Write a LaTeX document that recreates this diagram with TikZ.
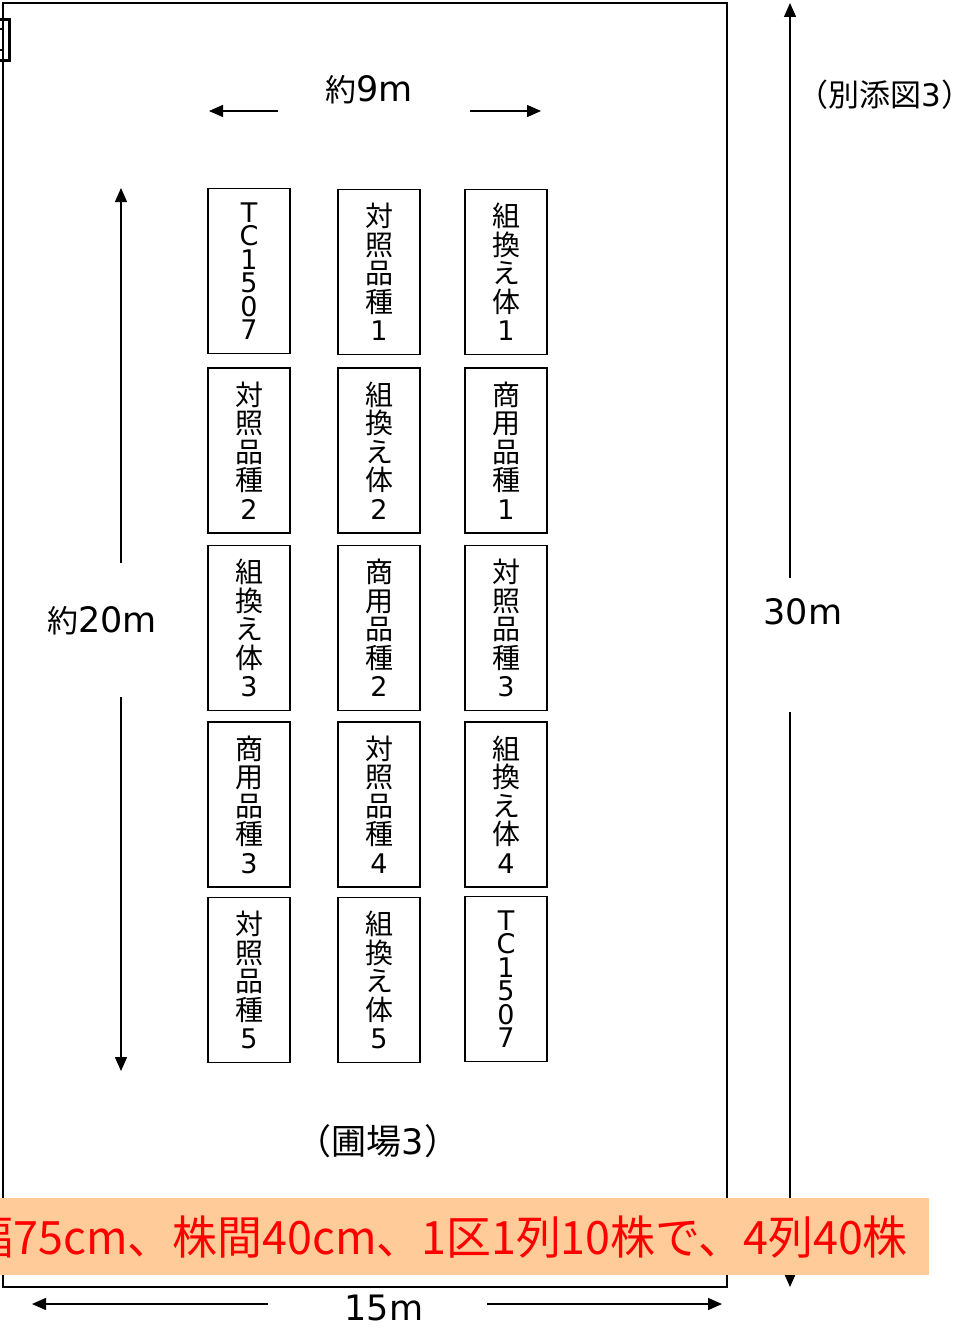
\documentclass[tikz,border=0pt]{standalone}
\usepackage{fontspec}
\setmainfont{Noto Sans CJK JP}
\newfontfamily\jp{Noto Sans CJK JP}
\newfontfamily\dv{DejaVu Sans}
\usetikzlibrary{arrows.meta}
\definecolor{bandfill}{HTML}{FFCC99}
\definecolor{bandtext}{HTML}{FF0000}
\newcommand\lat[1]{{\dv\fontsize{35}{35}\selectfont #1}}
\newcommand\bd[1]{{\dv\fontsize{27}{28.5}\selectfont #1}}
\begin{document}
\begin{tikzpicture}[x=1pt,y=-1pt,
  plot/.style={draw,line width=1.6pt,minimum width=82pt,minimum height=165pt,inner sep=0pt,align=center,font=\jp\fontsize{28}{28.5}\selectfont},
  plotlat/.style={plot,font=\dv\fontsize{27}{23.5}\selectfont},
  dim/.style={line width=1.4pt,-{Triangle[length=14pt,width=12pt]}},
  lbl/.style={inner sep=0pt,font=\jp\fontsize{31}{31}\selectfont}]
\useasboundingbox (0,0) rectangle (977,1338);
% outer field
\draw[line width=1.6pt] (3,3) rectangle (727,1287);
% cut-off fragment at top left
\draw[line width=3pt] (0,19.5)--(9,19.5)--(9,60.5)--(0,60.5);
\draw[line width=1.5pt] (0,29)--(2.5,29) (0,50)--(2.5,50);
% top width
\node[lbl] (w9) at (369,90) {約\lat{9m}};
\coordinate (w9l0) at (278,111); \coordinate (w9l1) at (209,111);
\coordinate (w9r0) at (470,111); \coordinate (w9r1) at (541,111);
\draw[dim] (w9l0) -- (w9l1);
\draw[dim] (w9r0) -- (w9r1);
% left length
\node[lbl] (l20) at (102,621) {約\lat{20m}};
\coordinate (l20u0) at (121,563); \coordinate (l20u1) at (121,188);
\coordinate (l20d0) at (121,697); \coordinate (l20d1) at (121,1071);
\draw[dim] (l20u0) -- (l20u1);
\draw[dim] (l20d0) -- (l20d1);
% right 30m
\node[lbl] (r30) at (803,612) {\lat{30m}};
\coordinate (r30u0) at (790,578); \coordinate (r30u1) at (790,3);
\coordinate (r30d0) at (790,712); \coordinate (r30d1) at (790,1287);
\draw[dim] (r30u0) -- (r30u1);
\draw[dim] (r30d0) -- (r30d1);
\node[inner sep=0pt,font=\jp\fontsize{31}{31}\selectfont] (fig) at (885,95) {（別添図{\dv 3}）};
% plots
\node[plotlat] (a1) at (249,271) {T\\C\\1\\5\\0\\7};
\node[plot] (b1) at (379,272) {対\\照\\品\\種\\\bd{1}};
\node[plot] (c1) at (506,272) {組\\換\\え\\体\\\bd{1}};
\node[plot] (a2) at (249,450.5) {対\\照\\品\\種\\\bd{2}};
\node[plot] (b2) at (379,450.5) {組\\換\\え\\体\\\bd{2}};
\node[plot] (c2) at (506,450.5) {商\\用\\品\\種\\\bd{1}};
\node[plot] (a3) at (249,628) {組\\換\\え\\体\\\bd{3}};
\node[plot] (b3) at (379,628) {商\\用\\品\\種\\\bd{2}};
\node[plot] (c3) at (506,628) {対\\照\\品\\種\\\bd{3}};
\node[plot] (a4) at (249,804.5) {商\\用\\品\\種\\\bd{3}};
\node[plot] (b4) at (379,804.5) {対\\照\\品\\種\\\bd{4}};
\node[plot] (c4) at (506,804.5) {組\\換\\え\\体\\\bd{4}};
\node[plot] (a5) at (249,980) {対\\照\\品\\種\\\bd{5}};
\node[plot] (b5) at (379,980) {組\\換\\え\\体\\\bd{5}};
\node[plotlat] (c5) at (506,979) {T\\C\\1\\5\\0\\7};
% field label
\node[inner sep=0pt,font=\jp\fontsize{35}{35}\selectfont] (field) at (378,1141) {（圃場{\dv 3}）};
% bottom width
\node[lbl] (w15) at (384,1308) {\lat{15m}};
\coordinate (w15l0) at (268,1304); \coordinate (w15l1) at (32,1304);
\coordinate (w15r0) at (487,1304); \coordinate (w15r1) at (722,1304);
\draw[dim] (w15l0) -- (w15l1);
\draw[dim] (w15r0) -- (w15r1);
% note band
\begin{scope}
\clip (0,0) rectangle (977,1338);
\fill[bandfill] (0,1198) rectangle (929,1275);
\node[inner sep=0pt,anchor=east,text=bandtext,font=\jp\fontsize{46}{46}\selectfont] (note) at (908,1237) {\scalebox{0.975}[1]{幅75cm、株間40cm、1区1列10株で、4列40株}};
\end{scope}
\end{tikzpicture}
\end{document}
